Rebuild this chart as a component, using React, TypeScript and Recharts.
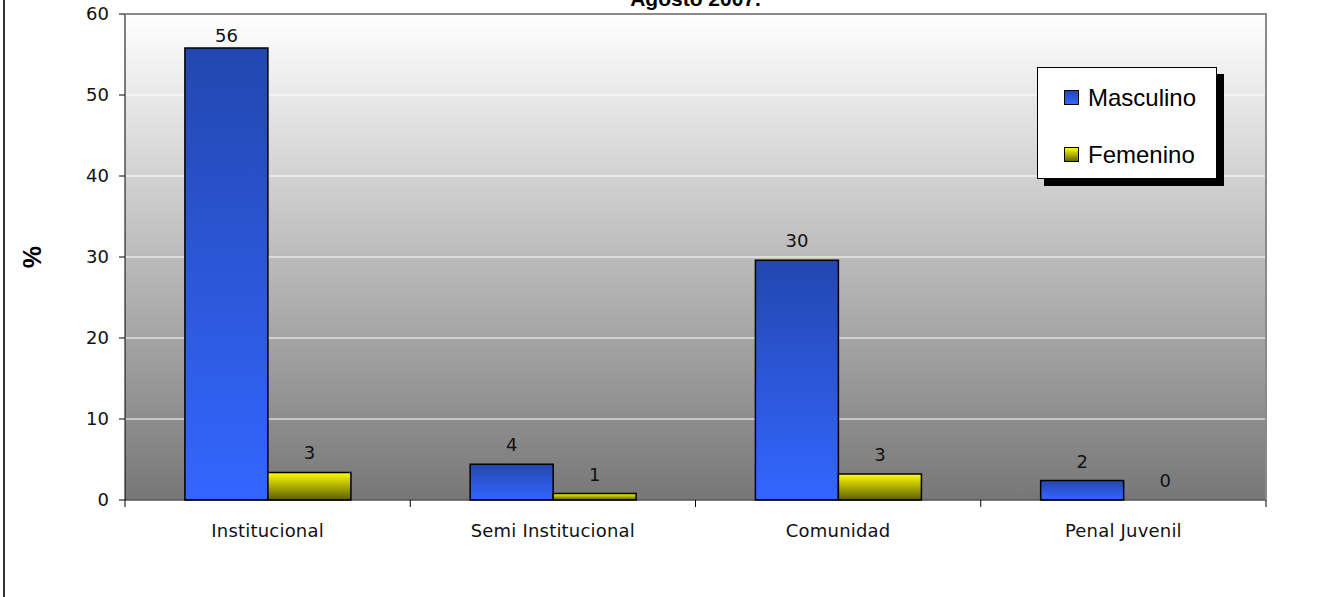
import React from 'react';
import { BarChart, Bar, XAxis, YAxis, CartesianGrid, LabelList, Legend } from 'recharts';

const categories = ['Institucional', 'Semi Institucional', 'Comunidad', 'Penal Juvenil'];
const masculino = [55.8, 4.4, 29.6, 2.4];
const femenino = [3.4, 0.8, 3.2, 0];
const yTicks = [0, 10, 20, 30, 40, 50, 60];
const seriesOrder = ['masc', 'fem'];
const seriesNames = { masc: 'Masculino', fem: 'Femenino' };
const titleText = 'Agosto 2007.';
const yLabelText = '%';

const data = categories.map((c, i) => ({ cat: c, masc: masculino[i], fem: femenino[i] }));

const W = 1335;
const H = 597;
const M = { top: 14, right: 69, left: 0, bottom: 57 };
const Y_AXIS_W = 125;
const X_AXIS_H = 40;
const PLOT_W = W - M.left - M.right - Y_AXIS_W;
const PLOT_H = H - M.top - M.bottom - X_AXIS_H;
const PLOT_L = M.left + Y_AXIS_W;
const PLOT_R = PLOT_L + PLOT_W;
const BAND = PLOT_W / categories.length;

const AXIS_FONT = '"DejaVu Sans", sans-serif';
const LEGEND_FONT = '"Liberation Sans", Arial, sans-serif';

const XTick = (props: any) => {
  const { x, y, payload, index } = props;
  const half = BAND / 2;
  const isLast = index === categories.length - 1 || payload?.value === categories[categories.length - 1];
  return (
    <g>
      <line x1={x - half} x2={x - half} y1={y} y2={y + 7} stroke="#000" strokeWidth={1} />
      {isLast && <line x1={x + half} x2={x + half} y1={y} y2={y + 7} stroke="#000" strokeWidth={1} />}
      <text x={x} y={y + 37} textAnchor="middle" fontFamily={AXIS_FONT} fontSize={18} fill="#111" letterSpacing={0.2}>
        {payload.value}
      </text>
    </g>
  );
};

const labelText = (cx: number, barTop: number, value: number, key: string) => (
  <text key={key} x={cx} y={Math.max(barTop - 13, M.top + 28)} textAnchor="middle" fontFamily={AXIS_FONT} fontSize={18} fill="#111">
    {Math.round(Number(value))}
  </text>
);

// Masculino labels; also draws the Femenino label for zero-height bars (which get no label of their own)
const renderMascLabel = (props: any) => {
  const { x, y, width, height, value, index } = props;
  const nx = Number(x), ny = Number(y), nw = Number(width), nh = Number(height);
  const femVal = femenino[index];
  return (
    <g>
      {labelText(nx + nw / 2, ny, value, 'm')}
      {femVal === 0 && labelText(nx + nw * 1.5, ny + nh, femVal, 'f')}
    </g>
  );
};

const renderFemLabel = (props: any) => {
  const { x, y, width, value } = props;
  if (Number(value) === 0) return null;
  return labelText(Number(x) + Number(width) / 2, Number(y), value, 'f');
};

const renderYLabel = (props: any) => {
  const vb = props.viewBox || { x: 0, y: M.top, width: Y_AXIS_W, height: PLOT_H };
  const cx = vb.x + 32;
  const cy = vb.y + vb.height / 2;
  return (
    <text x={cx} y={cy} textAnchor="middle" dominantBaseline="central" transform={`rotate(-90 ${cx} ${cy})`}
      fontFamily={LEGEND_FONT} fontWeight="bold" fontSize={25} fill="#000">
      {yLabelText}
    </text>
  );
};

const swatch: Record<string, string> = {
  masc: 'linear-gradient(#2347b0, #3366ff)',
  fem: 'linear-gradient(#ffff00, #666600)',
};

const renderLegend = (props: any) => {
  const payload = [...(props.payload || [])].sort(
    (a: any, b: any) => seriesOrder.indexOf(a.dataKey) - seriesOrder.indexOf(b.dataKey)
  );
  return (
    <div style={{
      position: 'relative', width: 180, height: 112, boxSizing: 'border-box',
      border: '1px solid #000', background: '#fff', boxShadow: '7px 7px 0 #000',
    }}>
      {payload.map((entry: any, i: number) => (
        <div key={i} style={{
          position: 'absolute', left: 26, top: 14.5 + i * 57, height: 30,
          display: 'flex', alignItems: 'center',
        }}>
          <div style={{
            width: 15, height: 15, boxSizing: 'border-box', border: '1px solid #000',
            background: swatch[entry.dataKey] || entry.color, marginRight: 9,
          }} />
          <span style={{ fontFamily: LEGEND_FONT, fontSize: 24, lineHeight: '30px', color: '#000', whiteSpace: 'nowrap' }}>
            {entry.value}
          </span>
        </div>
      ))}
    </div>
  );
};

export default function App() {
  return (
    <div style={{ position: 'absolute', left: 0, top: 0, width: W, height: H, overflow: 'hidden', background: '#fff' }}>
      <div style={{ position: 'absolute', left: 3, top: 0, width: 2, height: H, background: '#333' }} />
      <BarChart width={W} height={H} data={data} margin={M} barCategoryGap="21%" barGap={0}>
        <defs>
          <linearGradient id="bgGrad" x1="0" y1="0" x2="0" y2="1">
            <stop offset="0%" stopColor="#ffffff" />
            <stop offset="100%" stopColor="#777777" />
          </linearGradient>
          <linearGradient id="blueGrad" x1="0" y1="0" x2="0" y2="1">
            <stop offset="0%" stopColor="#2347b0" />
            <stop offset="100%" stopColor="#3366ff" />
          </linearGradient>
          <linearGradient id="yellowGrad" x1="0" y1="0" x2="0" y2="1">
            <stop offset="0%" stopColor="#ffff00" />
            <stop offset="100%" stopColor="#5c5c00" />
          </linearGradient>
        </defs>
        <CartesianGrid vertical={false} fill="url(#bgGrad)" fillOpacity={1} stroke="#ffffff" strokeWidth={1} />
        <XAxis dataKey="cat" height={X_AXIS_H} tick={<XTick />} tickLine={false} tickSize={0} tickMargin={0}
          axisLine={{ stroke: '#000', strokeWidth: 1 }} interval={0} />
        <YAxis width={Y_AXIS_W} domain={[0, 60]} ticks={yTicks} interval={0} tickSize={6} tickMargin={10}
          tick={{ fontFamily: AXIS_FONT, fontSize: 18, fill: '#111' }}
          axisLine={{ stroke: '#000', strokeWidth: 1 }} tickLine={{ stroke: '#000' }} label={renderYLabel} />
        <Legend layout="vertical" align="center" verticalAlign="middle" content={renderLegend}
          wrapperStyle={{ position: 'absolute', left: 1037, top: 67, width: 180, height: 112 }} />
        <Bar dataKey="masc" name={seriesNames.masc} fill="url(#blueGrad)" stroke="#000" strokeWidth={1.5} isAnimationActive={false}>
          <LabelList dataKey="masc" content={renderMascLabel} />
        </Bar>
        <Bar dataKey="fem" name={seriesNames.fem} fill="url(#yellowGrad)" stroke="#000" strokeWidth={1.5} isAnimationActive={false}>
          <LabelList dataKey="fem" content={renderFemLabel} />
        </Bar>
      </BarChart>
      <svg width={W} height={H} style={{ position: 'absolute', left: 0, top: 0, pointerEvents: 'none' }}>
        <line x1={PLOT_L} x2={PLOT_R + 1} y1={M.top} y2={M.top} stroke="#8a8a8a" strokeWidth={2} />
        <line x1={PLOT_R} x2={PLOT_R} y1={M.top} y2={M.top + PLOT_H} stroke="#8a8a8a" strokeWidth={2} />
        <text x={PLOT_L + PLOT_W / 2} y={6} textAnchor="middle" fontFamily={LEGEND_FONT} fontWeight="bold" fontSize={21} fill="#000">
          {titleText}
        </text>
      </svg>
    </div>
  );
}
